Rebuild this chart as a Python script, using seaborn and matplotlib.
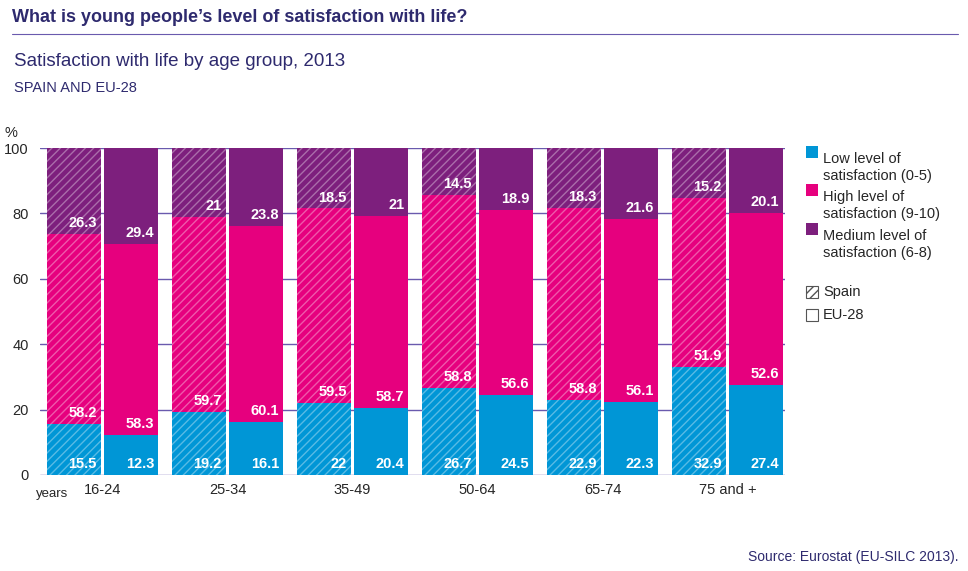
import matplotlib
matplotlib.use("Agg")
import matplotlib.pyplot as plt
import seaborn as sns
import numpy as np
import pandas as pd

groups = ["16-24", "25-34", "35-49", "50-64", "65-74", "75 and +"]
spain_low = [15.5, 19.2, 22, 26.7, 22.9, 32.9]
spain_high = [58.2, 59.7, 59.5, 58.8, 58.8, 51.9]
spain_med = [26.3, 21, 18.5, 14.5, 18.3, 15.2]
eu_low = [12.3, 16.1, 20.4, 24.5, 22.3, 27.4]
eu_high = [58.3, 60.1, 58.7, 56.6, 56.1, 52.6]
eu_med = [29.4, 23.8, 21, 18.9, 21.6, 20.1]

BLUE, PINK, PURPLE = "#0096D6", "#E6007E", "#7D1F7D"
NAVY = "#2E2A6E"

sns.set_theme(style="white")
plt.rcParams['font.family'] = ['Liberation Sans', 'DejaVu Sans']
plt.rcParams['hatch.linewidth'] = 1.0

fig = plt.figure(figsize=(9.68, 5.71), dpi=100)
ax = fig.add_axes([40/968, 1-475/571, 745/968, 327/571])

x = np.arange(len(groups))
w = 0.43
off = 0.23
for vals_list, xo, hatched in [((spain_low, spain_high, spain_med), -off, True),
                                ((eu_low, eu_high, eu_med), off, False)]:
    bottom = np.zeros(len(groups))
    for vals, col in zip(vals_list, [BLUE, PINK, PURPLE]):
        vals = np.array(vals, float)
        ax.bar(x + xo, vals, w, bottom=bottom, color=col, zorder=3,
               hatch="////" if hatched else None,
               edgecolor=(1, 1, 1, 0.35) if hatched else col, linewidth=0)
        for xi, b, v in zip(x + xo, bottom, vals):
            ax.text(xi + w/2 - 0.03, b + 1.2, f"{v:g}", ha="right", va="bottom",
                    color="white", fontsize=10.5, fontweight="bold", zorder=4)
        bottom += vals

ax.set_ylim(0, 100)
ax.set_xlim(-0.5, 5.46)
ax.set_yticks([0, 20, 40, 60, 80, 100])
ax.yaxis.grid(True, color="#6A5AAE", linewidth=1)
ax.set_axisbelow(True)
for s in ax.spines.values():
    s.set_visible(False)
ax.set_xticks(x)
ax.set_xticklabels(groups, fontsize=10.5)
ax.tick_params(axis="y", labelsize=10.5, length=0, pad=8)
ax.tick_params(axis="x", length=0, pad=6)
ax.text(-0.03, 1.035, "%", transform=ax.transAxes, fontsize=10.5, ha="right")
fig.text(36/968, 1-494/571, "years", fontsize=9.5, va="center")

fig.text(12/968, 1-18/571, "What is young people’s level of satisfaction with life?",
         fontsize=13, fontweight="bold", color=NAVY, va="center")
fig.add_artist(plt.Line2D([12/968, 958/968], [1-34/571, 1-34/571], color="#6A5AAE", lw=0.8))
fig.text(14/968, 1-62/571, "Satisfaction with life by age group, 2013", fontsize=13.5,
         color=NAVY, va="center")
fig.text(14/968, 1-88/571, "SPAIN AND EU-28", fontsize=10.5, color=NAVY, va="center")
fig.text(958/968, 1-557/571, "Source: Eurostat (EU-SILC 2013).", fontsize=10,
         color=NAVY, ha="right", va="center")

from matplotlib.patches import Rectangle
def sq(y, fc, hatch=None, ec="none"):
    fig.add_artist(Rectangle((806/968, 1-(y+6)/571), 12/968, 12/571, facecolor=fc,
                             hatch=hatch, edgecolor=ec, linewidth=0.8,
                             transform=fig.transFigure))
items = [(152, BLUE, "Low level of\nsatisfaction (0-5)"),
         (190, PINK, "High level of\nsatisfaction (9-10)"),
         (229, PURPLE, "Medium level of\nsatisfaction (6-8)")]
for y, c, t in items:
    sq(y, c)
    fig.text(823/968, 1-y/571, t, fontsize=10.5, va="top", ha="left", linespacing=1.3,
             transform=fig.transFigure)
sq(292, "white", "////", "#555555")
fig.text(823/968, 1-292/571, "Spain", fontsize=10.5, va="center")
sq(315, "white", None, "#555555")
fig.text(823/968, 1-315/571, "EU-28", fontsize=10.5, va="center")

fig.savefig("out.png", dpi=100)
